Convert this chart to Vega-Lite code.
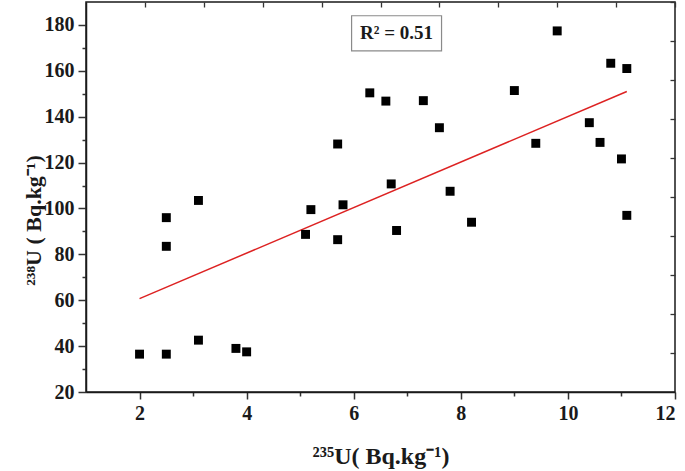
{
  "$schema": "https://vega.github.io/schema/vega-lite/v6.json",
  "width": 589,
  "height": 390,
  "autosize": {"type": "none"},
  "padding": {"left": 86, "top": 2, "right": 10, "bottom": 79},
  "background": "white",
  "config": {
    "view": {"stroke": "#1a1a1a", "strokeWidth": 1.5},
    "axis": {
      "labelFont": "Liberation Serif",
      "titleFont": "Liberation Serif",
      "labelFontWeight": "bold",
      "titleFontWeight": "bold",
      "labelColor": "#1a1a1a",
      "titleColor": "#1a1a1a",
      "tickColor": "#333333",
      "domainColor": "#1a1a1a",
      "grid": false
    }
  },
  "datasets": {
    "points": [
      {"u235": 2.0, "u238": 36.5},
      {"u235": 2.5, "u238": 36.5},
      {"u235": 2.5, "u238": 83.5},
      {"u235": 2.5, "u238": 96},
      {"u235": 3.1, "u238": 42.6},
      {"u235": 3.1, "u238": 103.5},
      {"u235": 3.8, "u238": 39},
      {"u235": 4.0, "u238": 37.5},
      {"u235": 5.1, "u238": 88.7},
      {"u235": 5.2, "u238": 99.5},
      {"u235": 5.7, "u238": 86.4},
      {"u235": 5.7, "u238": 128.1},
      {"u235": 5.8, "u238": 101.6},
      {"u235": 6.3, "u238": 150.4},
      {"u235": 6.6, "u238": 146.8},
      {"u235": 6.7, "u238": 110.7},
      {"u235": 6.8, "u238": 90.4},
      {"u235": 7.3, "u238": 147},
      {"u235": 7.6, "u238": 135.2},
      {"u235": 7.8, "u238": 107.5},
      {"u235": 8.2, "u238": 94},
      {"u235": 9.0, "u238": 151.4},
      {"u235": 9.4, "u238": 128.4},
      {"u235": 9.8, "u238": 177.4},
      {"u235": 10.4, "u238": 137.4},
      {"u235": 10.6, "u238": 128.8},
      {"u235": 10.8, "u238": 163.3},
      {"u235": 11.0, "u238": 121.6},
      {"u235": 11.1, "u238": 161},
      {"u235": 11.1, "u238": 97}
    ],
    "fit": [
      {"u235": 2.0, "u238": 60.7},
      {"u235": 11.1, "u238": 151}
    ],
    "box": [
      {"x1": 5.96, "x2": 7.64, "y1": 168.7, "y2": 184, "xc": 6.8, "yc": 176.3, "label": "R² = 0.51"}
    ]
  },
  "layer": [
    {
      "data": {"name": "box"},
      "mark": {"type": "rect", "fill": "white", "stroke": "#8a8a8a", "strokeWidth": 1.2},
      "encoding": {
        "x": {"field": "x1", "type": "quantitative", "axis": null, "scale": {"domain": [1, 12], "nice": false, "zero": false}},
        "x2": {"field": "x2"},
        "y": {"field": "y1", "type": "quantitative", "axis": null, "scale": {"domain": [20, 190], "nice": false, "zero": false}},
        "y2": {"field": "y2"}
      }
    },
    {
      "data": {"name": "box"},
      "mark": {"type": "text", "font": "Liberation Serif", "fontWeight": "bold", "fontSize": 19, "align": "center", "baseline": "middle", "color": "#1a1a1a"},
      "encoding": {
        "x": {"field": "xc", "type": "quantitative", "axis": null},
        "y": {"field": "yc", "type": "quantitative", "axis": null},
        "text": {"field": "label"}
      }
    },
    {
      "data": {"name": "fit"},
      "mark": {"type": "line", "color": "#dd2222", "strokeWidth": 1.5},
      "encoding": {
        "x": {"field": "u235", "type": "quantitative", "scale": {"domain": [1, 12], "nice": false, "zero": false},
          "axis": {"orient": "top", "values": [2.1, 3.2, 4.3, 5.4, 6.5, 7.6, 8.7, 9.8, 10.9, 12], "labels": false, "title": null, "domain": false, "tickSize": -5, "tickWidth": 1.3}},
        "y": {"field": "u238", "type": "quantitative", "scale": {"domain": [20, 190], "nice": false, "zero": false},
          "axis": {"orient": "right", "values": [37, 54, 71, 88, 105, 122, 139, 156, 173, 190], "labels": false, "title": null, "domain": false, "tickSize": -5, "tickWidth": 1.3}}
      }
    },
    {
      "data": {"name": "points"},
      "mark": {"type": "square", "size": 80, "color": "black", "opacity": 1, "filled": true},
      "encoding": {
        "x": {"field": "u235", "type": "quantitative", "scale": {"domain": [1, 12], "nice": false, "zero": false},
          "axis": {"orient": "bottom", "values": [2, 3, 4, 5, 6, 7, 8, 9, 10, 11, 12],
            "labelExpr": "datum.value % 2 == 0 ? datum.label : ''",
            "tickSize": {"condition": {"test": "datum.value % 2 == 0", "value": 7}, "value": 4},
            "tickWidth": 1.5, "labelFontSize": 20, "labelPadding": 4, "labelOverlap": false,
            "domainWidth": 1.5,
            "title": "²³⁵U( Bq.kg⁻¹)", "titleFontSize": 24, "titleBaseline": "alphabetic", "titleY": 71}},
        "y": {"field": "u238", "type": "quantitative", "scale": {"domain": [20, 190], "nice": false, "zero": false},
          "axis": {"orient": "left", "values": [20, 30, 40, 50, 60, 70, 80, 90, 100, 110, 120, 130, 140, 150, 160, 170, 180],
            "labelExpr": "datum.value % 20 == 0 ? datum.label : ''",
            "tickSize": {"condition": {"test": "datum.value % 20 == 0", "value": 8}, "value": 4},
            "tickWidth": 1.5, "labelFontSize": 20, "labelPadding": 4, "labelOverlap": false,
            "domainWidth": 1.5,
            "title": "²³⁸U ( Bq.kg⁻¹)", "titleFontSize": 22, "titleBaseline": "alphabetic", "titleAngle": -90, "titleX": -46, "titleY": 218, "titleAlign": "center"}}
      }
    }
  ]
}
